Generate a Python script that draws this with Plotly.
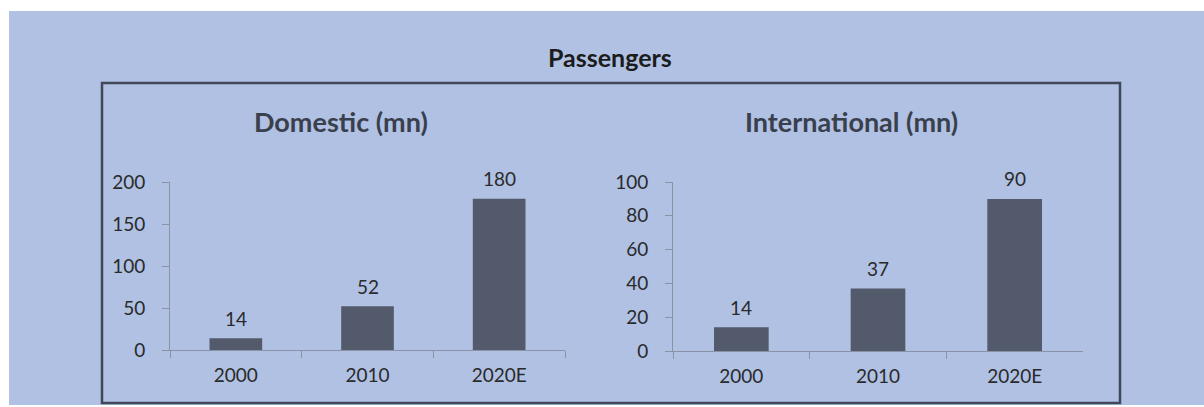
import plotly.graph_objects as go

categories = ["2000", "2010", "2020E"]
domestic = [14, 52, 180]
international = [14, 37, 90]
dom_ticks = [0, 50, 100, 150, 200]
int_ticks = [0, 20, 40, 60, 80, 100]

W, H = 1204, 407
def px(x): return x / W
def py(y): return 1 - y / H

BAR = "#535A6B"
TXT = "#2A2A2A"
AX = "#8A93A6"
FONT = "Lato"
FS = 19

fig = go.Figure()
fig.add_trace(go.Bar(x=categories, y=domestic,
                     marker=dict(color=BAR, line=dict(width=0)), width=0.4,
                     cliponaxis=False, xaxis="x", yaxis="y"))
fig.add_trace(go.Bar(x=categories, y=international,
                     marker=dict(color=BAR, line=dict(width=0)), width=0.4,
                     cliponaxis=False, xaxis="x2", yaxis="y2"))

xcommon = dict(type="category", range=[-0.5, len(categories) - 0.5],
               showline=True, linecolor=AX, linewidth=1, ticks="outside",
               tickson="boundaries", ticklen=7, tickcolor=AX, showgrid=False, zeroline=False,
               automargin=False, ticklabelstandoff=8, tickangle=0,
               tickfont=dict(size=FS, color=TXT, family=FONT), fixedrange=True)
ycommon = dict(showline=True, linecolor=AX, linewidth=1, ticks="outside", ticklen=7,
               tickcolor=AX, showgrid=False, zeroline=False, automargin=False,
               ticklabelstandoff=13,
               tickfont=dict(size=FS, color=TXT, family=FONT), fixedrange=True)

annotations = [
    dict(text="<b>Passengers</b>", xref="paper", yref="paper", x=px(610), y=py(57),
         xanchor="center", yanchor="middle",
         showarrow=False, font=dict(size=25, color="#1C1C1C", family=FONT)),
    dict(text="<b>Domestic (mn)</b>", xref="paper", yref="paper", x=px(341), y=py(122),
         xanchor="center", yanchor="middle",
         showarrow=False, font=dict(size=27, color="#3A3F4C", family=FONT)),
    dict(text="<b>International (mn)</b>", xref="paper", yref="paper", x=px(851), y=py(122),
         xanchor="center", yanchor="middle",
         showarrow=False, font=dict(size=27, color="#3A3F4C", family=FONT)),
]
for xa, ya, vals in (("x", "y", domestic), ("x2", "y2", international)):
    for i, v in enumerate(vals):
        annotations.append(dict(text=str(v), x=i, y=v, xref=xa, yref=ya, showarrow=False,
                                xanchor="center", yanchor="middle", yshift=20,
                                font=dict(size=FS, color=TXT, family=FONT)))

fig.update_layout(
    width=W, height=H,
    margin=dict(l=0, r=0, t=0, b=0, pad=0, autoexpand=False),
    paper_bgcolor="white", plot_bgcolor="rgba(0,0,0,0)",
    showlegend=False, bargap=0.6,
    xaxis=dict(domain=[px(170), px(565)], anchor="y", **xcommon),
    yaxis=dict(domain=[py(350), py(182)], anchor="x", range=[0, 200], tickvals=dom_ticks, **ycommon),
    xaxis2=dict(domain=[px(673), px(1083)], anchor="y2", **xcommon),
    yaxis2=dict(domain=[py(351), py(182)], anchor="x2", range=[0, 100], tickvals=int_ticks, **ycommon),
    shapes=[
        dict(type="rect", xref="paper", yref="paper", x0=px(9), x1=1, y0=py(405), y1=py(11),
             fillcolor="#B0C1E4", line=dict(width=0), layer="below"),
        dict(type="rect", xref="paper", yref="paper", x0=px(102), x1=px(1120), y0=py(403), y1=py(83),
             fillcolor="rgba(0,0,0,0)", line=dict(width=2.5, color="#414859"), layer="below"),
    ],
    annotations=annotations,
)

fig.write_html("out.html")
